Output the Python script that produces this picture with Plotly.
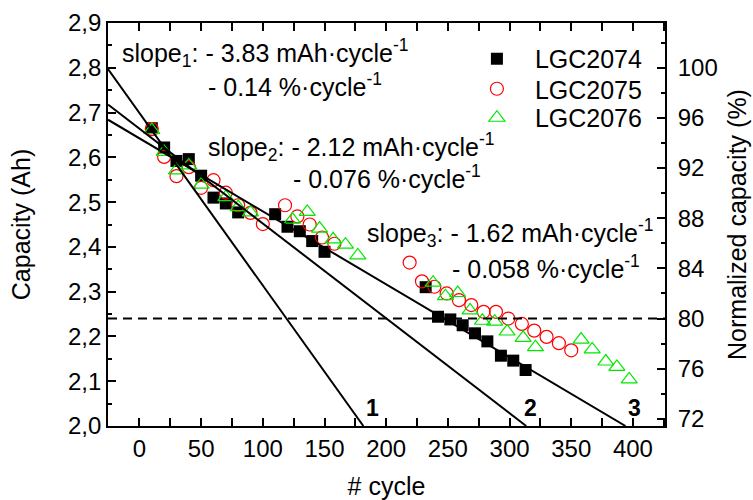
import plotly.graph_objects as go

# ---------------- data ----------------
cyc_2074 = [10, 20, 30, 40, 50, 60, 70, 80, 110, 120, 130, 140, 150,
            232, 242, 252, 262, 272, 282, 293, 303, 313]
cap_2074 = [2.665, 2.622, 2.592, 2.596, 2.559, 2.510, 2.497, 2.477, 2.473, 2.445, 2.435, 2.413, 2.389,
            2.310, 2.244, 2.238, 2.225, 2.207, 2.189, 2.157, 2.146, 2.125]

cyc_2075 = [10, 20, 30, 40, 50, 60, 70, 80, 90, 100, 118, 128, 138, 148, 158,
            219, 229, 239, 249, 259, 269, 279, 289, 299, 310, 320, 330, 340, 350]
cap_2075 = [2.663, 2.601, 2.558, 2.578, 2.532, 2.549, 2.521, 2.493, 2.476, 2.451, 2.493, 2.468, 2.450, 2.421, 2.407,
            2.365, 2.323, 2.311, 2.296, 2.281, 2.270, 2.255, 2.255, 2.240, 2.228, 2.213, 2.199, 2.185, 2.169]

cyc_2076 = [10, 20, 30, 40, 50, 70, 80, 90, 124, 136, 146, 157, 167, 177,
            238, 248, 258, 268, 278, 288, 298, 311, 321, 358, 367, 378, 387, 397]
cap_2076 = [2.661, 2.612, 2.571, 2.582, 2.539, 2.511, 2.489, 2.477, 2.461, 2.478, 2.441, 2.417, 2.405, 2.381,
            2.320, 2.290, 2.297, 2.258, 2.235, 2.233, 2.211, 2.197, 2.176, 2.193, 2.171, 2.144, 2.132, 2.104]

# linear fits (end points)
fit1_x = [-25.5, 181.5]
fit1_y = [2.797, 2.0]
fit2_x = [-25.5, 313.5]
fit2_y = [2.718, 2.0]
fit3_x = [-25.5, 394.0]
fit3_y = [2.684, 2.0]

# 80 % reference (normalized axis)
ref_x = [-25.5, 426.0]
ref_y = [80, 80]

nominal_cap = 2.8
x_range = [-25.5, 426.0]
y_range = [2.0, 2.9]
x_ticks = [0, 50, 100, 150, 200, 250, 300, 350, 400]
y_ticks = [2.0, 2.1, 2.2, 2.3, 2.4, 2.5, 2.6, 2.7, 2.8, 2.9]
y2_ticks = [72, 76, 80, 84, 88, 92, 96, 100]

FONT = "Liberation Sans, Arial, sans-serif"
GREEN = "#00e800"
RED = "#ff0000"

fig = go.Figure()

fig.add_trace(go.Scatter(x=cyc_2074, y=cap_2074, mode="markers", name="LGC2074", legend="legend",
                         marker=dict(symbol="square", size=12, color="black",
                                     line=dict(width=0))))
fig.add_trace(go.Scatter(x=cyc_2075, y=cap_2075, mode="markers", name="LGC2075", legend="legend2",
                         marker=dict(symbol="circle-open", size=13, color=RED,
                                     line=dict(width=1.2, color=RED))))
fig.add_trace(go.Scatter(x=cyc_2076, y=cap_2076, mode="markers", name="LGC2076", legend="legend3",
                         marker=dict(symbol="triangle-up-open", size=14, color=GREEN,
                                     line=dict(width=1.2, color=GREEN))))

for fx, fy in [(fit1_x, fit1_y), (fit2_x, fit2_y), (fit3_x, fit3_y)]:
    fig.add_trace(go.Scatter(x=fx, y=fy, mode="lines", showlegend=False,
                             line=dict(color="black", width=2), hoverinfo="skip"))

fig.add_trace(go.Scatter(x=ref_x, y=ref_y, yaxis="y2", mode="lines", showlegend=False,
                         line=dict(color="black", width=2, dash="9px,6px"), hoverinfo="skip"))

ann_font = dict(family=FONT, size=25, color="black")
annotations = [
    dict(x=-16, y=2.833, text="slope<sub>1</sub>: - 3.83 mAh·cycle<sup>-1</sup>"),
    dict(x=54, y=2.761, text="- 0.14 %·cycle<sup>-1</sup>"),
    dict(x=54, y=2.623, text="slope<sub>2</sub>: - 2.12 mAh·cycle<sup>-1</sup>"),
    dict(x=123, y=2.556, text="- 0.076 %·cycle<sup>-1</sup>"),
    dict(x=183, y=2.431, text="slope<sub>3</sub>: - 1.62 mAh·cycle<sup>-1</sup>"),
    dict(x=252, y=2.355, text="- 0.058 %·cycle<sup>-1</sup>"),
]
for a in annotations:
    fig.add_annotation(xref="x", yref="y", xanchor="left", yanchor="middle",
                       showarrow=False, font=ann_font, **a)

for lx, lab in [(189, "1"), (317, "2"), (401, "3")]:
    fig.add_annotation(xref="x", yref="y", x=lx, y=2.04, text="<b>" + lab + "</b>",
                       showarrow=False, xanchor="center", yanchor="middle",
                       font=dict(family=FONT, size=23, color="black"))

axis_common = dict(showgrid=False, zeroline=False, showline=True, linecolor="black",
                   linewidth=1.8, ticks="inside", ticklen=8, tickwidth=1.5, tickcolor="black",
                   automargin=False,
                   tickfont=dict(family=FONT, size=24, color="black"))

leg_common = dict(x=0.63, xanchor="left", yanchor="middle",
                  bgcolor="rgba(0,0,0,0)", itemwidth=66,
                  font=dict(family=FONT, size=25, color="black"))

fig.update_layout(
    width=753, height=500,
    margin=dict(l=108, r=88, t=23, b=74, autoexpand=False),
    paper_bgcolor="white", plot_bgcolor="white",
    separators=", ",
    font=dict(family=FONT, size=24, color="black"),
    xaxis=dict(range=x_range, tickvals=x_ticks, mirror="allticks",
               minor=dict(ticks="inside", ticklen=4, tickwidth=1.5, dtick=25, tick0=0, tickcolor="black"),
               title=dict(text="# cycle", font=dict(family=FONT, size=25), standoff=18),
               **axis_common),
    yaxis=dict(range=y_range, tickvals=y_ticks, tickformat=".1f",
               minor=dict(ticks="inside", ticklen=4, tickwidth=1.5, dtick=0.05, tick0=2.0, tickcolor="black"),
               title=dict(text="Capacity (Ah)", font=dict(family=FONT, size=25), standoff=30),
               **axis_common),
    yaxis2=dict(overlaying="y", side="right",
                range=[y_range[0] / nominal_cap * 100, y_range[1] / nominal_cap * 100],
                tickvals=y2_ticks,
                minor=dict(ticks="inside", ticklen=4, tickwidth=1.5, dtick=2, tick0=0, tickcolor="black"),
                title=dict(text="Normalized capacity (%)", font=dict(family=FONT, size=25), standoff=12),
                ticklabelstandoff=6,
                **axis_common),
    legend=dict(y=0.9107, **leg_common),
    legend2=dict(y=0.8362, **leg_common),
    legend3=dict(y=0.7643, **leg_common),
    showlegend=True,
)

fig.write_html("out.html",
               config={"displayModeBar": False},
               post_script="document.body.style.margin='0';document.body.style.padding='0';"
                           "document.body.style.overflow='hidden';")
